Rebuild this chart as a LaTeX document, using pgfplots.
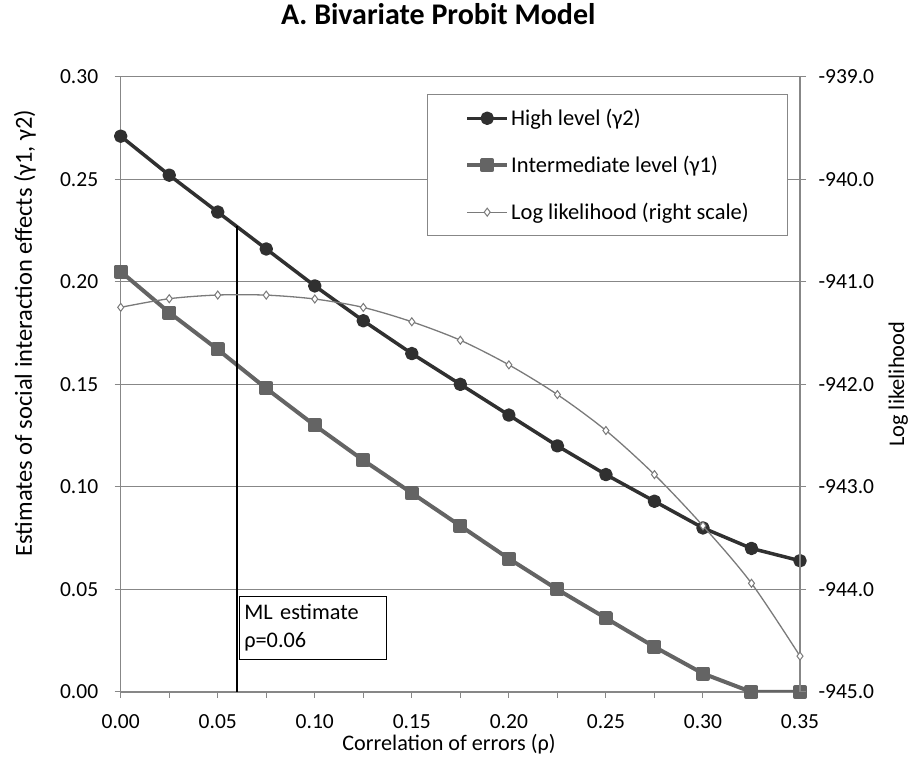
\documentclass[border=0pt]{standalone}
\usepackage{fontspec}
\setmainfont{Carlito}
\usepackage{pgfplots}
\pgfplotsset{compat=1.18}
\definecolor{gridgray}{HTML}{878787}
\definecolor{highc}{HTML}{303030}
\definecolor{midc}{HTML}{646464}
\definecolor{llc}{HTML}{7A7A7A}
\newcommand{\tfont}{\fontsize{21.5}{25}\selectfont}
\begin{document}
\begin{tikzpicture}
\useasboundingbox (0pt,0pt) rectangle (911pt,778pt);
\begin{axis}[
  at={(120.7pt,86pt)}, anchor=south west,
  scale only axis, width=679.3pt, height=615.3pt,
  xmin=0, xmax=0.35, ymin=0, ymax=0.30,
  xtick={0,0.05,0.1,0.15,0.2,0.25,0.3,0.35},
  minor xtick={0.025,0.075,0.125,0.175,0.225,0.275,0.325},
  ytick={0,0.05,0.1,0.15,0.2,0.25,0.3},
  xtick pos=bottom, ytick pos=left,
  tick align=outside,
  major tick length=6pt, minor tick length=6pt,
  tick style={gridgray, line width=1pt},
  ymajorgrids, grid style={gridgray, line width=1.2pt},
  axis line style={gridgray, line width=1.3pt},
  scaled ticks=false,
  /pgf/number format/assume math mode=true,
  /pgf/number format/fixed, /pgf/number format/fixed zerofill, /pgf/number format/precision=2,
  ticklabel style={font=\tfont},
  xticklabel style={inner ysep=0pt, yshift=-16pt},
  yticklabel style={xshift=-13pt},
  title={A. Bivariate Probit Model},
  title style={at={(0.4675,1.0743)}, anchor=base, font=\bfseries\fontsize{30}{36}\selectfont},
  xlabel={Correlation of errors (ρ)},
  xlabel style={at={(0.4833,-0.0943)}, anchor=base, inner ysep=0pt, font=\fontsize{22.2}{26}\selectfont},
  ylabel={Estimates of social interaction effects (γ1, γ2)},
  ylabel style={at={(-0.1409,0.5835)}, anchor=center, font=\fontsize{24.5}{29}\selectfont},
  legend style={at={(0.4505,0.9714)}, anchor=north west, draw=gridgray, line width=1pt,
    inner xsep=38pt, inner ysep=12.5pt, row sep=25pt, column sep=0pt,
    font=\fontsize{22.5}{27}\selectfont, cells={anchor=west}},
  legend image code/.code={\draw[mark repeat=2,mark phase=2,#1] plot coordinates {(0pt,0pt)(20pt,0pt)(40pt,0pt)};},
]
\addplot[highc, line width=3.5pt, line join=round, mark=*, mark size=5pt, mark options={solid}] coordinates {
(0.000,0.271) (0.025,0.252) (0.050,0.234) (0.075,0.216) (0.100,0.198)
(0.125,0.181) (0.150,0.165) (0.175,0.150) (0.200,0.135) (0.225,0.120)
(0.250,0.106) (0.275,0.093) (0.300,0.080) (0.325,0.070) (0.350,0.064)};
\addlegendentry{\makebox[236pt][l]{High level (γ2)}}
\addplot[midc, line width=4pt, line join=round, mark=square*, mark size=5pt, mark options={solid}] coordinates {
(0.000,0.205) (0.025,0.185) (0.050,0.167) (0.075,0.148) (0.100,0.130)
(0.125,0.113) (0.150,0.097) (0.175,0.081) (0.200,0.065) (0.225,0.050)
(0.250,0.036) (0.275,0.022) (0.300,0.009) (0.325,0.000) (0.350,0.000)};
\addlegendentry{\makebox[236pt][l]{Intermediate level (γ1)}}
\addplot[black, line width=1.5pt, forget plot] coordinates {(0.06,0) (0.06,0.227)};
\addlegendimage{llc, line width=1.3pt, mark=diamond*, mark size=4pt, mark options={fill=white, draw=llc, line width=1pt}}
\addlegendentry{\makebox[236pt][l]{Log likelihood (right scale)}}
\node[draw=black, line width=1pt, fill=white, anchor=north west, minimum width=146.4pt, minimum height=63.6pt,
  text width=137.4pt, align=left, inner xsep=4.5pt, font=\fontsize{22.3}{28}\selectfont]
  at (axis cs:0.0611,0.04695) {ML estimate\\ρ=0.06};
\end{axis}
\begin{axis}[
  at={(120.7pt,86pt)}, anchor=south west,
  scale only axis, width=679.3pt, height=615.3pt,
  xmin=0, xmax=0.35, ymin=-945, ymax=-939,
  axis x line=none, axis y line*=right,
  ytick={-945,-944,-943,-942,-941,-940,-939},
  tick align=outside, major tick length=6pt,
  tick style={gridgray, line width=1pt},
  axis line style={gridgray, line width=1.3pt},
  /pgf/number format/assume math mode=true,
  /pgf/number format/fixed, /pgf/number format/fixed zerofill, /pgf/number format/precision=1,
  /pgf/number format/1000 sep={},
  ticklabel style={font=\tfont},
  yticklabel style={xshift=9pt},
  ylabel={Log likelihood},
  ylabel style={at={(1.1447,0.5)}, anchor=center, font=\fontsize{22.4}{27}\selectfont},
]
\addplot[llc, line width=1.3pt, smooth, mark=diamond*, mark size=4pt, mark options={fill=white, draw=llc, line width=1pt}] coordinates {
(0.000,-941.249) (0.025,-941.165) (0.050,-941.129) (0.075,-941.130) (0.100,-941.168)
(0.125,-941.250) (0.150,-941.390) (0.175,-941.570) (0.200,-941.810) (0.225,-942.100)
(0.250,-942.450) (0.275,-942.880) (0.300,-943.380) (0.325,-943.940) (0.350,-944.650)};
\end{axis}
\end{tikzpicture}
\end{document}
